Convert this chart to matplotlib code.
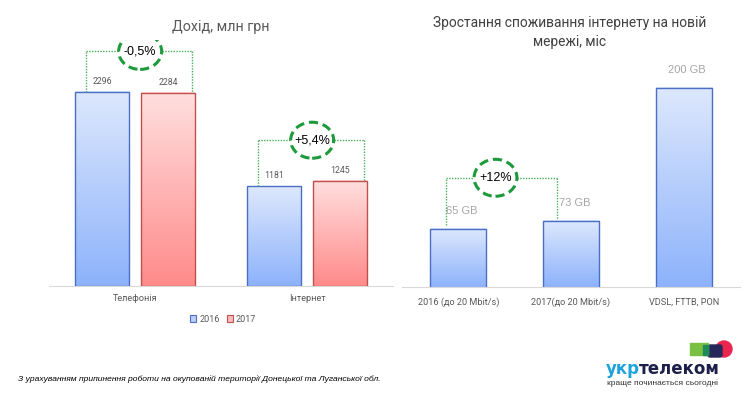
import matplotlib
matplotlib.use('Agg')
import matplotlib.pyplot as plt
import numpy as np
from matplotlib.patches import Ellipse, Rectangle, FancyBboxPatch, Circle, Patch
from matplotlib.colors import LinearSegmentedColormap
from matplotlib import font_manager as fm

# ---------------- data ----------------
revenue_title = 'Дохід, млн грн'
revenue_categories = ['Телефонія', 'Інтернет']
years = ['2016', '2017']
revenue_2016 = [2296, 1181]
revenue_2017 = [2284, 1245]
revenue_changes = ['-0,5%', '+5,4%']

usage_title = 'Зростання споживання інтернету на новій\nмережі, міс'
usage_categories = ['2016 (до 20 Mbit/s)', '2017(до 20 Mbit/s)', 'VDSL, FTTB, PON']
usage_values = [65, 73, 200]
usage_labels = ['65 GB', '73 GB', '200 GB']
usage_change = '+12%'

footnote = 'З урахуванням припинення роботи на окупованій території Донецької та Луганської обл.'

# ---------------- style ----------------
names = {f.name for f in fm.fontManager.ttflist}
narrow = 'Liberation Sans Narrow' if 'Liberation Sans Narrow' in names else 'Liberation Sans'
UI = ['Roboto', 'DejaVu Sans']
ARIAL = ['Liberation Sans', 'DejaVu Sans']
plt.rcParams['font.family'] = UI

blue_cmap = LinearSegmentedColormap.from_list('b', ['#8db2fb', '#dde8fd'])
red_cmap = LinearSegmentedColormap.from_list('r', ['#ff8a8a', '#ffdfdf'])
BLUE_EDGE = '#4a6fc4'
RED_EDGE = '#c0504d'
GREEN_DOT = '#4cb05a'
GREEN_ELL = '#1d9a3c'
grad = np.linspace(0, 1, 256).reshape(-1, 1)

fig = plt.figure(figsize=(7.5, 3.94), dpi=100)


def style_axes(ax, pad):
    for s in ['top', 'right', 'left']:
        ax.spines[s].set_visible(False)
    ax.spines['bottom'].set_color('#d9d9d9')
    ax.set_yticks([])
    ax.tick_params(axis='x', length=0, pad=pad, labelsize=6.6, labelcolor='#595959')


def grad_fill(ax, bars, cmap):
    ylo = ax.get_ylim()[0]
    for r in bars:
        x0, w, h, b = r.get_x(), r.get_width(), r.get_height(), r.get_y()
        ax.imshow(grad, extent=[x0, x0 + w, max(b, ylo), b + h], origin='lower',
                  cmap=cmap, aspect='auto', zorder=2, interpolation='bilinear')


def bracket(ax, xl, yl, xr, yr, yb, cx, ew, eh, text):
    kw = dict(color=GREEN_DOT, lw=1, linestyle=(0, (1, 1)), zorder=4)
    ax.plot([xl, xl], [yl, yb], **kw)
    ax.plot([xl, cx - ew / 2], [yb, yb], **kw)
    ax.plot([cx + ew / 2, xr], [yb, yb], **kw)
    ax.plot([xr, xr], [yb, yr], **kw)
    ax.add_patch(Ellipse((cx, yb), ew, eh, fill=False, edgecolor=GREEN_ELL, lw=2.2,
                         linestyle=(0, (3, 1.6)), zorder=5))
    ax.text(cx, yb, text, ha='center', va='center', fontsize=9, color='black',
            family=ARIAL, zorder=6)


# ---------------- left chart ----------------
axL = fig.add_axes([49 / 750, 108 / 394, 344 / 750, 246 / 394])
axL.set_xlim(-0.5, 1.5)
axL.set_ylim(0, 2911)
style_axes(axL, 5.5)
x = np.arange(len(revenue_categories))
w, off = 0.314, 0.192
b16 = axL.bar(x - off, revenue_2016, w, facecolor='none', edgecolor=BLUE_EDGE, lw=1, zorder=3)
b17 = axL.bar(x + off, revenue_2017, w, facecolor='none', edgecolor=RED_EDGE, lw=1, zorder=3)
grad_fill(axL, b16, blue_cmap)
grad_fill(axL, b17, red_cmap)
axL.set_xlim(-0.5, 1.5)
axL.set_ylim(0, 2911)
axL.set_xticks(x, revenue_categories)
for xi, v in zip(x - off, revenue_2016):
    axL.annotate(str(v), (xi, v), xytext=(0, 7.5), textcoords='offset points',
                 ha='center', va='center', fontsize=6.3, color='#595959')
for xi, v in zip(x + off, revenue_2017):
    axL.annotate(str(v), (xi, v), xytext=(0, 7.5), textcoords='offset points',
                 ha='center', va='center', fontsize=6.3, color='#595959')
for i in range(len(x)):
    v1, v2 = revenue_2016[i], revenue_2017[i]
    yb = max(v1, v2) + 480
    bracket(axL, x[i] - off - 0.095, v1, x[i] + off + 0.137, v2, yb,
            x[i] + 0.03, 0.25, 426, revenue_changes[i])

fig.text(221 / 750, 1 - 27 / 394, revenue_title, ha='center', va='center',
         fontsize=10.3, color='#595959')
handles = [Patch(facecolor='#b9cffa', edgecolor=BLUE_EDGE, lw=0.8),
           Patch(facecolor='#ffbcbc', edgecolor=RED_EDGE, lw=0.8)]
fig.legend(handles, years, loc='center', bbox_to_anchor=(223 / 750, 1 - 319 / 394),
           ncol=2, frameon=False, fontsize=6.5, handlelength=0.7, handleheight=0.7,
           handletextpad=0.3, columnspacing=0.8, labelcolor='#595959')

# ---------------- right chart ----------------
axR = fig.add_axes([402 / 750, 107 / 394, 338 / 750, 227 / 394])
ylo, yhi = 9.4, 226.8
axR.set_xlim(-0.5, 2.5)
axR.set_ylim(ylo, yhi)
style_axes(axR, 7.5)
xr = np.arange(len(usage_categories))
bu = axR.bar(xr, usage_values, 0.5, facecolor='none', edgecolor=BLUE_EDGE, lw=1, zorder=3)
grad_fill(axR, bu, blue_cmap)
axR.set_xlim(-0.5, 2.5)
axR.set_ylim(ylo, yhi)
axR.set_xticks(xr, usage_categories)
for xi, v, lab in zip(xr, usage_values, usage_labels):
    axR.annotate(lab, (xi, v), xytext=(2.5, 13), textcoords='offset points',
                 ha='center', va='center', fontsize=8, color='#a6a6a6', family=ARIAL)
bracket(axR, xr[0] - 0.11, usage_values[0] + 3.5, xr[1] - 0.128, usage_values[1] + 1.5,
        usage_values[1] + 41, 0.33, 0.38, 35.4, usage_change)

fig.text(570 / 750, 1 - 32.5 / 394, usage_title, ha='center', va='center',
         fontsize=9.9, color='#404040', linespacing=1.45)

# ---------------- footnote & logo ----------------
fig.text(18 / 750, 1 - 379 / 394, footnote, ha='left', va='center', fontsize=6.1,
         style='italic', family=[narrow, 'DejaVu Sans'], color='black')

axO = fig.add_axes([0, 0, 1, 1], facecolor='none')
axO.set_xlim(0, 750)
axO.set_ylim(394, 0)
axO.axis('off')
axO.add_patch(Circle((724, 349), 8, color='#e8244f', zorder=1))
axO.add_patch(FancyBboxPatch((708, 345), 14, 12, boxstyle='round,pad=0,rounding_size=2',
                             color='#27285a', zorder=2))
axO.add_patch(Rectangle((690, 343), 18, 12, color='#7ac143', zorder=3))
axO.add_patch(Rectangle((703, 345), 5, 10, color='#1f8a5a', zorder=4))
t1 = axO.text(606, 369, 'укр', ha='left', va='center', fontsize=12, fontweight='bold',
              color='#1fa3dc', family=['DejaVu Sans'])
fig.canvas.draw()
bb = t1.get_window_extent(fig.canvas.get_renderer())
axO.text(bb.x1 / 100 / 7.5 * 750 - 1, 369, 'телеком', ha='left', va='center', fontsize=12,
         fontweight='bold', color='#1b1f4a', family=['DejaVu Sans'])
axO.text(607, 383, 'краще починається сьогодні', ha='left', va='center', fontsize=6,
         color='#333333', family=[narrow, 'DejaVu Sans'])

fig.savefig('out.png', dpi=100)
